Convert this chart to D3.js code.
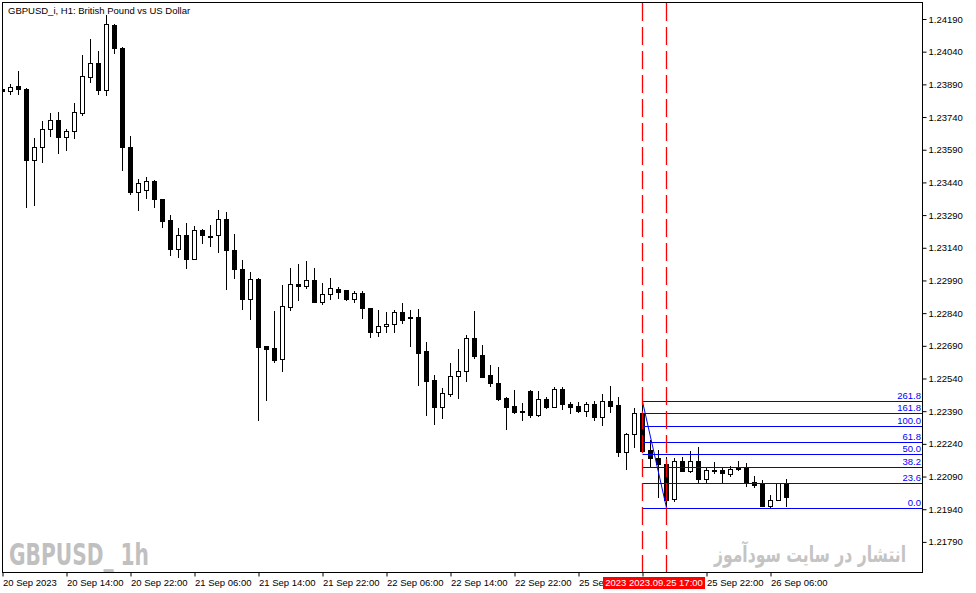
<!DOCTYPE html>
<html>
<head>
<meta charset="utf-8">
<script src="https://cdnjs.cloudflare.com/ajax/libs/d3/7.8.5/d3.min.js"></script>
<style>
  body { margin: 0; background: #fff; }
  svg text { font-family: "Liberation Sans", Arial, sans-serif; }
</style>
</head>
<body>
<div id="container"></div>
<script>
// GBPUSD H1 candles, one entry per bar (bar index 0..98)
let barOpen = [
  1.23869,1.23858,1.23881,1.23869,1.23543,1.23601,1.23684,1.23726,1.23650,1.23677,
  1.23760,1.23925,1.23989,1.23864,1.24162,1.24058,1.23604,1.23394,1.23405,1.23446,
  1.23362,1.23267,1.23133,1.23199,1.23090,1.23221,1.23196,1.23197,1.23271,1.23130,
  1.23043,1.22906,1.22997,1.22689,1.22679,1.22628,1.22869,1.22972,1.22966,1.22992,
  1.22892,1.22926,1.22951,1.22946,1.22903,1.22931,1.22862,1.22752,1.22780,1.22789,
  1.22844,1.22822,1.22821,1.22666,1.22533,1.22410,1.22469,1.22550,1.22573,1.22724,
  1.22648,1.22555,1.22519,1.22449,1.22414,1.22392,1.22483,1.22372,1.22446,1.22410,
  1.22492,1.22421,1.22414,1.22392,1.22421,1.22365,1.22437,1.22418,1.22204,1.22284,
  1.22380,1.22212,1.22174,1.22146,1.21985,1.22161,1.22117,1.22161,1.22079,1.22119,
  1.22120,1.22100,1.22123,1.22131,1.22063,1.22059,1.21956,1.21982,1.22059
];
let barHigh = [
  1.23871,1.23892,1.23951,1.23873,1.23645,1.23722,1.23757,1.23762,1.23685,1.23803,
  1.24025,1.24098,1.24043,1.24208,1.24165,1.24062,1.23654,1.23456,1.23463,1.23451,
  1.23364,1.23290,1.23229,1.23252,1.23240,1.23225,1.23244,1.23313,1.23303,1.23203,
  1.23084,1.23027,1.22999,1.22691,1.22850,1.22969,1.23046,1.23064,1.23079,1.23046,
  1.22977,1.23000,1.22960,1.22947,1.22942,1.22942,1.22863,1.22854,1.22846,1.22854,
  1.22885,1.22854,1.22859,1.22706,1.22556,1.22495,1.22610,1.22674,1.22740,1.22850,
  1.22694,1.22602,1.22591,1.22456,1.22487,1.22426,1.22485,1.22483,1.22454,1.22500,
  1.22500,1.22431,1.22431,1.22431,1.22438,1.22469,1.22505,1.22454,1.22288,1.22406,
  1.22434,1.22258,1.22212,1.22178,1.22174,1.22178,1.22207,1.22224,1.22128,1.22155,
  1.22132,1.22140,1.22161,1.22153,1.22094,1.22074,1.22005,1.22060,1.22079
];
let barLow = [
  1.23857,1.23846,1.23844,1.23328,1.23336,1.23535,1.23654,1.23574,1.23589,1.23642,
  1.23749,1.23902,1.23846,1.23841,1.24033,1.23497,1.23385,1.23313,1.23370,1.23328,
  1.23237,1.23107,1.23099,1.23046,1.23089,1.23160,1.23148,1.23122,1.22949,1.23003,
  1.22860,1.22814,1.22349,1.22441,1.22617,1.22576,1.22854,1.22900,1.22954,1.22891,
  1.22882,1.22903,1.22911,1.22902,1.22892,1.22816,1.22732,1.22736,1.22755,1.22755,
  1.22793,1.22690,1.22510,1.22372,1.22331,1.22360,1.22461,1.22452,1.22530,1.22635,
  1.22545,1.22507,1.22441,1.22308,1.22383,1.22349,1.22362,1.22368,1.22406,1.22408,
  1.22400,1.22380,1.22388,1.22369,1.22349,1.22326,1.22388,1.22186,1.22124,1.22227,
  1.22202,1.22132,1.21995,1.21946,1.21979,1.22115,1.22112,1.22066,1.22059,1.22108,
  1.22059,1.22094,1.22122,1.22046,1.22041,1.21955,1.21944,1.21981,1.21956
];
let barClose = [
  1.23860,1.23877,1.23869,1.23543,1.23604,1.23685,1.23726,1.23650,1.23676,1.23762,
  1.23928,1.23989,1.23864,1.24167,1.24056,1.23604,1.23397,1.23437,1.23446,1.23362,
  1.23264,1.23133,1.23197,1.23090,1.23221,1.23197,1.23194,1.23271,1.23128,1.23041,
  1.22906,1.22997,1.22686,1.22677,1.22625,1.22873,1.22972,1.22966,1.22992,1.22892,
  1.22926,1.22954,1.22938,1.22903,1.22931,1.22862,1.22752,1.22780,1.22789,1.22844,
  1.22807,1.22816,1.22659,1.22530,1.22410,1.22472,1.22550,1.22574,1.22724,1.22645,
  1.22548,1.22518,1.22446,1.22410,1.22388,1.22389,1.22372,1.22446,1.22410,1.22492,
  1.22421,1.22410,1.22391,1.22421,1.22365,1.22437,1.22415,1.22204,1.22285,1.22380,
  1.22207,1.22174,1.22146,1.21982,1.22161,1.22117,1.22161,1.22079,1.22120,1.22120,
  1.22105,1.22124,1.22131,1.22059,1.22052,1.21956,1.21982,1.22059,1.21995
];

// Axis ticks (the 25 Sep 14:00 label sits under the red line label, so it is left blank)
let priceTicks = [1.24190,1.24040,1.23890,1.23740,1.23590,1.23440,1.23290,1.23140,
  1.22990,1.22840,1.22690,1.22540,1.22390,1.22240,1.22090,1.21940,1.21790];
let timeTickBars = [0,8,16,24,32,40,48,56,64,72,80,88,96];
let timeTickLabels = ["20 Sep 2023","20 Sep 14:00","20 Sep 22:00","21 Sep 06:00","21 Sep 14:00",
  "21 Sep 22:00","22 Sep 06:00","22 Sep 14:00","22 Sep 22:00","25 Sep 06:00","",
  "25 Sep 22:00","26 Sep 06:00"];

// Fibonacci object
let fibLevels = [1.22435,1.22380,1.22321,1.22247,1.22193,1.22132,1.22059,1.21946];
let fibLabels = ["261.8","161.8","100.0","61.8","50.0","38.2","23.6","0.0"];
let fibStartBar = 80;
let trendFrom = [80, 1.22434];
let trendTo = [83, 1.21946];

// Vertical lines
let vLineBars = [80, 83];
let vLineLabel = "2023 2023.09.25 17:00";

let titleText = "GBPUSD_i, H1:  British Pound vs US Dollar";
let watermarkLeft = "GBPUSD_  1h";
let watermarkRight = "انتشار در سایت سودآموز";

function BuildGraph(){

  let chartWidth = 976;
  let chartHeight = 593;
  let plotLeft = 2.5, plotTop = 2.5, plotRight = 922.5, plotBottom = 572.5;
  let fontSize = "9.5px";
  let redLabelX = 603;

  let svg = d3.select('#container')
    .append('svg')
    .attr('width', chartWidth)
    .attr('height', chartHeight);

  let xScale = d3.scaleLinear()
    .domain([0, 98])
    .range([2.5, 786.5]);

  let yScale = d3.scaleLinear()
    .domain([1.24190, 1.21790])
    .range([19, 541.9]);

  let py = (p) => Math.round(yScale(p)) + 0.5;

  let defs = svg.append('defs');
  defs.append('clipPath')
    .attr('id', 'plot-clip')
    .append('rect')
    .attr('x', plotLeft)
    .attr('y', plotTop)
    .attr('width', plotRight - plotLeft)
    .attr('height', plotBottom - plotTop);

  // watermarks sit under everything
  svg.append('text')
    .attr('x', 9)
    .attr('y', 564.5)
    .attr('textLength', 140)
    .attr('lengthAdjust', 'spacingAndGlyphs')
    .style('font-family', '"Liberation Sans Narrow", "DejaVu Sans Condensed", sans-serif')
    .style('font-weight', 'bold')
    .style('font-size', '31px')
    .attr('fill', '#c0c0c0')
    .text(watermarkLeft);

  // squeeze the persian line sideways to the width it has in the terminal
  svg.append('text')
    .attr('transform', 'translate(810,562) scale(0.71,1)')
    .attr('text-anchor', 'middle')
    .style('font-family', '"DejaVu Sans", sans-serif')
    .style('font-weight', 'bold')
    .style('font-size', '22px')
    .attr('fill', '#c4c4c4')
    .text(watermarkRight);

  let bars = d3.range(barOpen.length).map((i) => ({
    i: i, o: barOpen[i], h: barHigh[i], l: barLow[i], c: barClose[i]
  }));

  let plot = svg.append('g').attr('clip-path', 'url(#plot-clip)');

  // wicks
  plot.append('g')
    .selectAll('line')
    .data(bars)
    .enter()
    .append('line')
    .attr('x1', (d) => xScale(d.i))
    .attr('x2', (d) => xScale(d.i))
    .attr('y1', (d) => py(d.h) - 0.5)
    .attr('y2', (d) => py(d.l) + 0.5)
    .attr('stroke', '#000')
    .attr('stroke-width', 1);

  // bodies
  plot.append('g')
    .selectAll('rect')
    .data(bars)
    .enter()
    .append('rect')
    .attr('x', (d) => xScale(d.i) - 2)
    .attr('width', 4)
    .attr('y', (d) => py(Math.max(d.o, d.c)))
    .attr('height', (d) => Math.max(1, py(Math.min(d.o, d.c)) - py(Math.max(d.o, d.c))))
    .attr('fill', (d) => d.c >= d.o ? '#fff' : '#000')
    .attr('stroke', '#000')
    .attr('stroke-width', 1);

  // fibonacci levels
  let fib = plot.append('g');
  fib.selectAll('line')
    .data(fibLevels)
    .enter()
    .append('line')
    .attr('x1', xScale(fibStartBar))
    .attr('x2', plotRight)
    .attr('y1', (d) => py(d))
    .attr('y2', (d) => py(d))
    .attr('stroke', '#0000ff')
    .attr('stroke-width', 1);

  fib.selectAll('text')
    .data(fibLevels)
    .enter()
    .append('text')
    .attr('x', plotRight - 1.5)
    .attr('y', (d) => py(d) - 3)
    .attr('text-anchor', 'end')
    .style('font-size', fontSize)
    .attr('fill', '#0000ff')
    .text((d, i) => fibLabels[i]);

  plot.append('line')
    .attr('x1', xScale(trendFrom[0]))
    .attr('y1', yScale(trendFrom[1]))
    .attr('x2', xScale(trendTo[0]))
    .attr('y2', yScale(trendTo[1]))
    .attr('stroke', '#0000ff')
    .attr('stroke-width', 1);

  // red dashed verticals on top
  plot.append('g')
    .selectAll('line')
    .data(vLineBars)
    .enter()
    .append('line')
    .attr('x1', (d) => xScale(d))
    .attr('x2', (d) => xScale(d))
    .attr('y1', plotTop + 0.5)
    .attr('y2', plotBottom)
    .attr('stroke', '#ff0000')
    .attr('stroke-width', 1.3)
    .attr('stroke-dasharray', '18,6');

  // frame
  svg.append('rect')
    .attr('x', plotLeft)
    .attr('y', plotTop)
    .attr('width', plotRight - plotLeft)
    .attr('height', plotBottom - plotTop)
    .attr('fill', 'none')
    .attr('stroke', '#000')
    .attr('stroke-width', 1);

  svg.append('text')
    .attr('x', 8)
    .attr('y', 13.5)
    .style('font-size', fontSize)
    .attr('fill', '#000')
    .text(titleText);

  // price axis
  let yAxis = d3.axisRight(yScale)
    .tickValues(priceTicks)
    .tickSize(4)
    .tickPadding(2)
    .tickFormat((d) => d.toFixed(5));
  let yg = svg.append('g')
    .attr('transform', 'translate(' + plotRight + ',0)')
    .call(yAxis);
  yg.select('.domain').remove();
  yg.selectAll('text').style('font-size', fontSize).attr('fill', '#000');

  // time axis
  let xAxis = d3.axisBottom(xScale)
    .tickValues(timeTickBars)
    .tickSize(4)
    .tickPadding(3)
    .tickFormat((d, i) => timeTickLabels[i]);
  let xg = svg.append('g')
    .attr('transform', 'translate(0,' + plotBottom + ')')
    .call(xAxis);
  xg.select('.domain').remove();
  xg.selectAll('text')
    .attr('text-anchor', 'start')
    .style('font-size', fontSize)
    .attr('fill', '#000');

  // labels left of the red label are cut where it begins
  xg.selectAll('.tick').each(function(d){
    if (xScale(d) < redLabelX) {
      let id = 'time-clip-' + d;
      defs.append('clipPath')
        .attr('id', id)
        .append('rect')
        .attr('x', -xScale(d))
        .attr('y', 0)
        .attr('width', redLabelX)
        .attr('height', 30);
      d3.select(this).select('text').attr('clip-path', 'url(#' + id + ')');
    }
  });

  // label of the vertical line on the time axis
  svg.append('rect')
    .attr('x', redLabelX)
    .attr('y', 577)
    .attr('width', 102)
    .attr('height', 12)
    .attr('fill', '#ff0000');
  svg.append('text')
    .attr('x', redLabelX + 51)
    .attr('y', 586)
    .attr('text-anchor', 'middle')
    .style('font-size', fontSize)
    .attr('fill', '#fff')
    .text(vLineLabel);
}

BuildGraph();
</script>
</body>
</html>
